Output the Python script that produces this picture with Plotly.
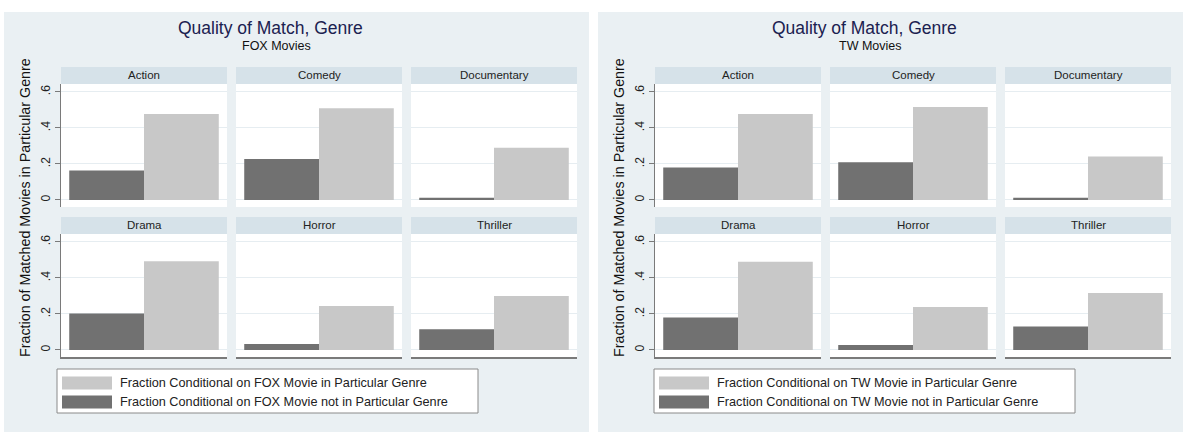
import plotly.graph_objects as go

# ---------------- data ----------------
genres = ["Action", "Comedy", "Documentary", "Drama", "Horror", "Thriller"]
studios = ["FOX", "TW"]
fox_in_genre = [0.477, 0.510, 0.290, 0.493, 0.244, 0.300]
fox_not_in_genre = [0.163, 0.228, 0.012, 0.203, 0.033, 0.115]
tw_in_genre = [0.477, 0.516, 0.241, 0.490, 0.238, 0.317]
tw_not_in_genre = [0.180, 0.210, 0.012, 0.180, 0.028, 0.130]
y_tick_values = [0, 0.2, 0.4, 0.6]
y_tick_labels = ["0", ".2", ".4", ".6"]

series = {
    "FOX": (fox_in_genre, fox_not_in_genre),
    "TW": (tw_in_genre, tw_not_in_genre),
}

# ---------------- layout helpers ----------------
W, H = 1185, 432
FONT = "Liberation Sans, Arial, sans-serif"
BG = "#eaf0f3"
STRIP = "#d6e2e9"
GRID = "#e6edf1"
DARK = "#717171"
LIGHT = "#c8c8c8"
AXIS = "#7a7a7a"
TITLE_COL = "#1b2150"


def fx(x):
    return x / W


def fy(y):
    return 1 - y / H


graph_dx = [0, 594]
col_px = [(61, 227), (236, 402), (411, 577)]
row_px = [(84, 207), (234, 357)]
strip_px = [(67, 84), (217, 234)]

fig = go.Figure()
shapes = []
annotations = []
layout_axes = {}

# graph region backgrounds
for g in range(2):
    dx = graph_dx[g]
    shapes.append(dict(type="rect", xref="paper", yref="paper",
                       x0=fx(4 + dx), x1=fx(589 + dx), y0=fy(432), y1=fy(12),
                       fillcolor=BG, line=dict(width=0), layer="below"))

for g, studio in enumerate(studios):
    dx = graph_dx[g]
    in_vals, not_vals = series[studio]
    for i, genre in enumerate(genres):
        r, c = divmod(i, 3)
        k = g * 6 + i + 1
        xa = "xaxis" if k == 1 else f"xaxis{k}"
        ya = "yaxis" if k == 1 else f"yaxis{k}"
        xr = "x" if k == 1 else f"x{k}"
        yr = "y" if k == 1 else f"y{k}"
        x0, x1 = col_px[c][0] + dx, col_px[c][1] + dx
        y0, y1 = row_px[r]
        # white plot region
        shapes.append(dict(type="rect", xref="paper", yref="paper",
                           x0=fx(x0), x1=fx(x1), y0=fy(y1), y1=fy(y0),
                           fillcolor="white", line=dict(width=0), layer="below"))
        # strip
        s0, s1 = strip_px[r]
        shapes.append(dict(type="rect", xref="paper", yref="paper",
                           x0=fx(x0), x1=fx(x1), y0=fy(s1), y1=fy(s0),
                           fillcolor=STRIP, line=dict(width=0), layer="below"))
        annotations.append(dict(text=genre, xref="paper", yref="paper",
                                x=fx((x0 + x1) / 2), y=fy((s0 + s1) / 2),
                                showarrow=False, xanchor="center", yanchor="middle",
                                font=dict(family=FONT, size=11.5, color="#222222")))
        fig.add_trace(go.Bar(x=[0], y=[not_vals[i]], width=[1], xaxis=xr, yaxis=yr,
                             marker=dict(color=DARK, line=dict(width=0)),
                             name=f"Fraction Conditional on {studio} Movie not in Particular Genre",
                             showlegend=False, hoverinfo="y"))
        fig.add_trace(go.Bar(x=[1], y=[in_vals[i]], width=[1], xaxis=xr, yaxis=yr,
                             marker=dict(color=LIGHT, line=dict(width=0)),
                             name=f"Fraction Conditional on {studio} Movie in Particular Genre",
                             showlegend=False, hoverinfo="y"))
        layout_axes[xa] = dict(domain=[fx(x0), fx(x1)], range=[-0.61, 1.61],
                               showticklabels=False, showgrid=False, zeroline=False,
                               ticks="", fixedrange=True,
                               showline=(r == 1), linecolor=AXIS, linewidth=1.5,
                               anchor=yr)
        layout_axes[ya] = dict(domain=[fy(y1), fy(y0)], range=[-0.039, 0.644],
                               tickvals=y_tick_values, ticktext=y_tick_labels,
                               showticklabels=(c == 0), ticks=("outside" if c == 0 else ""),
                               ticklen=5, tickcolor=AXIS, tickwidth=1,
                               tickangle=-90,
                               tickfont=dict(family=FONT, size=12, color="#222222"),
                               showgrid=True, gridcolor=GRID, gridwidth=1,
                               zeroline=False, showline=(c == 0), linecolor=AXIS,
                               linewidth=1, fixedrange=True, anchor=xr)

    # titles
    annotations.append(dict(text="Quality of Match, Genre", xref="paper", yref="paper",
                            x=fx(270 + dx), y=fy(28), showarrow=False,
                            xanchor="center", yanchor="middle",
                            font=dict(family=FONT, size=17.5, color=TITLE_COL)))
    annotations.append(dict(text=f"{studio} Movies", xref="paper", yref="paper",
                            x=fx(276 + dx), y=fy(46), showarrow=False,
                            xanchor="center", yanchor="middle",
                            font=dict(family=FONT, size=12.5, color="#111111")))
    # y-axis title
    annotations.append(dict(text="Fraction of Matched Movies in Particular Genre",
                            xref="paper", yref="paper", x=fx(25 + dx), y=fy(208),
                            showarrow=False, textangle=-90,
                            xanchor="center", yanchor="middle",
                            font=dict(family=FONT, size=14.3, color="#111111")))
    # legend box (key drawn in paper space)
    lx = 57 + (597 if g == 1 else 0)
    shapes.append(dict(type="rect", xref="paper", yref="paper",
                       x0=fx(lx), x1=fx(lx + 421), y0=fy(413), y1=fy(369),
                       fillcolor="white", line=dict(color="#8a8a8a", width=1)))
    for j, (col, label) in enumerate([
            (LIGHT, f"Fraction Conditional on {studio} Movie in Particular Genre"),
            (DARK, f"Fraction Conditional on {studio} Movie not in Particular Genre")]):
        yc = 383 + j * 19
        shapes.append(dict(type="rect", xref="paper", yref="paper",
                           x0=fx(lx + 5), x1=fx(lx + 55), y0=fy(yc + 6.5), y1=fy(yc - 6.5),
                           fillcolor=col, line=dict(width=0)))
        annotations.append(dict(text=label, xref="paper", yref="paper",
                                x=fx(lx + 61), y=fy(yc), showarrow=False,
                                xanchor="left", yanchor="middle",
                                font=dict(family=FONT, size=12.7, color="#222222")))

fig.update_layout(
    width=W, height=H,
    margin=dict(l=0, r=0, t=0, b=0),
    paper_bgcolor="white",
    plot_bgcolor="rgba(0,0,0,0)",
    barmode="overlay",
    showlegend=False,
    shapes=shapes,
    annotations=annotations,
    **layout_axes,
)

fig.write_html("out.html",
               config={"displayModeBar": False},
               post_script="document.body.style.margin='0';document.body.style.overflow='hidden';")
